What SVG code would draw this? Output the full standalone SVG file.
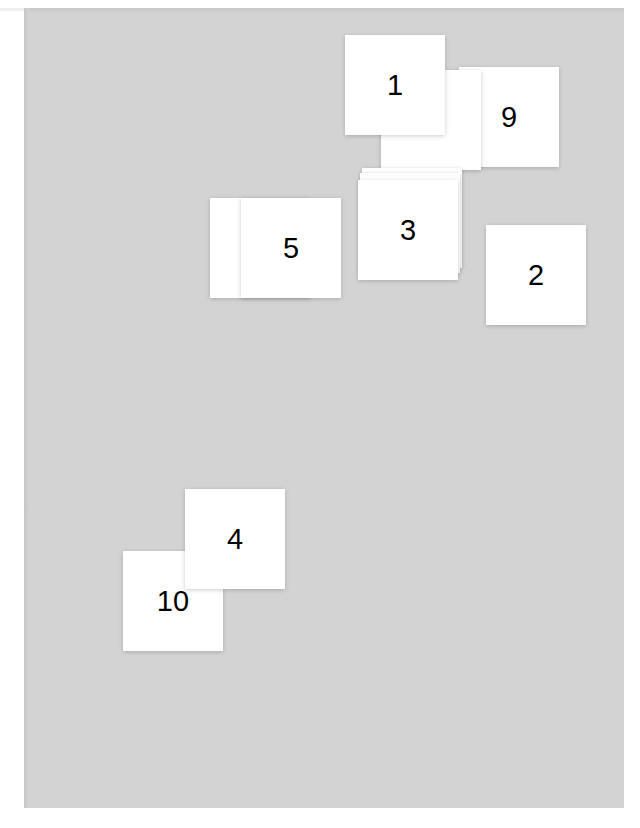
<svg xmlns="http://www.w3.org/2000/svg" width="640" height="828" viewBox="0 0 640 828">
<defs>
<filter id="sh" x="-10%" y="-10%" width="120%" height="120%">
<feDropShadow dx="0" dy="1" stdDeviation="2.2" flood-color="#000" flood-opacity="0.2"/>
</filter>
<linearGradient id="gt" x1="0" y1="0" x2="0" y2="1">
<stop offset="0" stop-color="#c6c6c6"/><stop offset="1" stop-color="#d3d3d3"/>
</linearGradient>
<linearGradient id="gl" x1="0" y1="0" x2="1" y2="0">
<stop offset="0" stop-color="#c6c6c6"/><stop offset="1" stop-color="#d3d3d3"/>
</linearGradient>
</defs>
<style>
.card rect{fill:#ffffff;filter:url(#sh)}
.card text{font-family:"Liberation Sans",Arial,sans-serif;font-size:29px;fill:#000;text-anchor:middle}
</style>
<rect x="0" y="0" width="640" height="828" fill="#ffffff"/>
<rect x="0" y="8" width="24" height="3" fill="#efefef"/>
<g id="board">
<rect x="24" y="8" width="600" height="800" fill="#d3d3d3"/>
<rect x="24" y="8" width="600" height="5" fill="url(#gt)"/>
<rect x="24" y="8" width="5" height="800" fill="url(#gl)"/>
</g>
<g id="connectors"></g>
<g id="node10" class="card"><rect x="123" y="551" width="100" height="100"/><text x="173" y="611">10</text></g>
<g id="node4" class="card"><rect x="185" y="489" width="100" height="100"/><text x="235" y="549">4</text></g>
<g id="node6" class="card"><rect x="210" y="198" width="100" height="100"/></g>
<g id="node5" class="card"><rect x="241" y="198" width="100" height="100"/><text x="291" y="258">5</text></g>
<g id="node9" class="card"><rect x="459" y="67" width="100" height="100"/><text x="509" y="127">9</text></g>
<g id="node7" class="card"><rect x="381" y="70" width="100" height="100"/></g>
<g id="node1" class="card"><rect x="345" y="35" width="100" height="100"/><text x="395" y="95">1</text></g>
<g id="node8" class="card"><rect x="362" y="168" width="100" height="100"/></g>
<g id="node8b" class="card"><rect x="360" y="173" width="100" height="100"/></g>
<g id="node3" class="card"><rect x="358" y="180" width="100" height="100"/><text x="408" y="240">3</text></g>
<g id="node2" class="card"><rect x="486" y="225" width="100" height="100"/><text x="536" y="285">2</text></g>
</svg>
